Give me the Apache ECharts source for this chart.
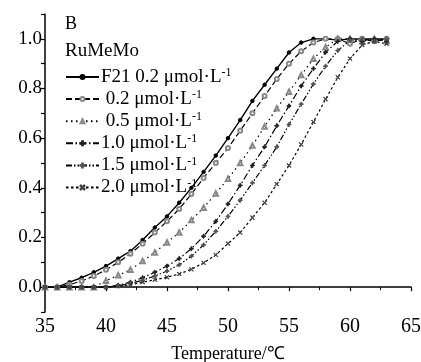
<!DOCTYPE html>
<html><head><meta charset="utf-8">
<script src="https://cdn.jsdelivr.net/npm/echarts@6/dist/echarts.min.js"></script>
<style>html,body{margin:0;padding:0;background:#fff}#c{width:421px;height:362px}</style>
</head><body><div id="c"></div>
<script>
var temps = [35,36,37,38,39,40,41,42,43,44,45,46,47,48,49,50,51,52,53,54,55,56,57,58,59,60,61,62,63];
var sF21 = [0,0,0.02,0.038,0.06,0.085,0.115,0.145,0.19,0.24,0.285,0.34,0.40,0.464,0.53,0.60,0.673,0.75,0.815,0.88,0.945,0.985,1.0,1.0,0.995,1.0,1.0,1.0,1.0];
var s02 = [0,0,0.01,0.025,0.045,0.07,0.10,0.135,0.175,0.22,0.265,0.315,0.375,0.44,0.50,0.56,0.63,0.70,0.77,0.838,0.90,0.95,0.985,1.0,1.0,0.98,1.0,0.99,1.0];
var s05 = [0,0,0,0,0,0.026,0.048,0.07,0.105,0.14,0.18,0.22,0.27,0.32,0.377,0.437,0.50,0.57,0.647,0.72,0.787,0.854,0.92,0.966,1.0,1.0,0.99,1.0,0.99];
var s10 = [0,0,0,0,0,0,0.008,0.02,0.038,0.06,0.085,0.115,0.155,0.205,0.265,0.335,0.41,0.49,0.565,0.65,0.73,0.81,0.88,0.946,0.99,1.0,0.99,1.0,0.99];
var s15 = [0,0,0,0,0,0,0.005,0.015,0.028,0.045,0.065,0.09,0.125,0.17,0.225,0.285,0.35,0.42,0.49,0.565,0.655,0.737,0.818,0.89,0.953,0.993,1.0,0.99,1.0];
var s20 = [0,0,0,0,0,0,0.004,0.01,0.02,0.03,0.04,0.053,0.072,0.098,0.13,0.175,0.22,0.28,0.34,0.415,0.49,0.575,0.665,0.757,0.845,0.92,0.975,0.99,0.98];
var seriesNames = ['F21 0.2', '0.2', '0.5', '1.0', '1.5', '2.0'];
var legendLabels = ['F21 0.2 μmol·L', ' 0.2 μmol·L', ' 0.5 μmol·L', '1.0 μmol·L', '1.5 μmol·L', '2.0 μmol·L'];
var xTitle = 'Temperature/℃';
var panelLabel = 'B';
var groupLabel = 'RuMeMo';

function pairs(v){ return temps.map(function(t,i){ return [t, v[i]]; }); }
var FONT = 'Liberation Serif';
var plusPath = 'path://M4,0H6V4H10V6H6V10H4V6H0V4H4Z';
var xPath = 'path://M1,0L5,4L9,0L10,1L6,5L10,9L9,10L5,6L1,10L0,9L4,5L0,1Z';
function mk(name, data, dash, symbol, size, color, width){
  return {
    name: name, type: 'line', data: pairs(data), symbol: symbol, symbolSize: size,
    showSymbol: true, animation: false,
    lineStyle: {color: '#000', width: width || 1.2, type: dash},
    itemStyle: {color: color, borderColor: color, borderWidth: 1}
  };
}
var chart = echarts.init(document.getElementById('c'), null, {renderer: 'canvas'});
chart.setOption({
  animation: false,
  title: [
    {text: panelLabel, left: 60, top: 10, textStyle: {fontFamily: FONT, fontSize: 18, fontWeight: 'normal', color: '#000'}},
    {text: groupLabel, left: 60, top: 37, textStyle: {fontFamily: FONT, fontSize: 19, fontWeight: 'normal', color: '#000'}}
  ],
  grid: {left: 45, right: 10, top: 14, bottom: 50, containLabel: false, outerBoundsMode: 'none'},
  legend: {
    orient: 'vertical', left: 60, top: 62, itemWidth: 33, itemHeight: 5, itemGap: 2.6,
    data: seriesNames,
    formatter: function(n){ var i = seriesNames.indexOf(n); return '{a|' + legendLabels[i] + '}{s|-1}'; },
    textStyle: {fontFamily: FONT, fontSize: 19, color: '#000', padding: [0,0,0,-3],
      rich: {a: {fontFamily: FONT, fontSize: 19, lineHeight: 20, color: '#000'},
             s: {fontFamily: FONT, fontSize: 12, lineHeight: 20, verticalAlign: 'top', color: '#000'}}}
  },
  xAxis: {
    type: 'value', min: 35, max: 65, interval: 5,
    name: xTitle, nameLocation: 'middle', nameGap: 33,
    nameTextStyle: {fontFamily: FONT, fontSize: 18, color: '#000'},
    axisLine: {lineStyle: {color: '#000', width: 1.5}},
    axisTick: {length: 4, lineStyle: {color: '#000', width: 1.2}},
    minorTick: {show: true, splitNumber: 2, length: 3, lineStyle: {color: '#000', width: 1}},
    axisLabel: {fontFamily: FONT, fontSize: 20, color: '#000', margin: 5},
    splitLine: {show: false}
  },
  yAxis: {
    type: 'value', min: -0.1, max: 1.1, interval: 0.1,
    axisLine: {show: true, lineStyle: {color: '#000', width: 1.5}},
    axisTick: {show: true, length: 4, lineStyle: {color: '#000', width: 1.2}},
    axisLabel: {fontFamily: FONT, fontSize: 19, color: '#000', margin: 3,
      formatter: function(v){ var k = Math.round(v*10); return (k >= 0 && k % 2 === 0) ? (k/10).toFixed(1) : ''; }},
    splitLine: {show: false}
  },
  series: [
    mk(seriesNames[0], sF21, 'solid', 'circle', 3.5, '#000', 1.4),
    mk(seriesNames[1], s02, [6,3], 'emptyCircle', 4, '#888'),
    mk(seriesNames[2], s05, [1.5,3.5], 'emptyTriangle', 4.5, '#888'),
    mk(seriesNames[3], s10, [7,2.5,1.5,2.5], plusPath, 4, '#222'),
    mk(seriesNames[4], s15, [6,2,1.5,2,1.5,2], plusPath, 4, '#555'),
    mk(seriesNames[5], s20, [2.5,2.5], xPath, 4, '#444')
  ]
});
</script></body></html>
